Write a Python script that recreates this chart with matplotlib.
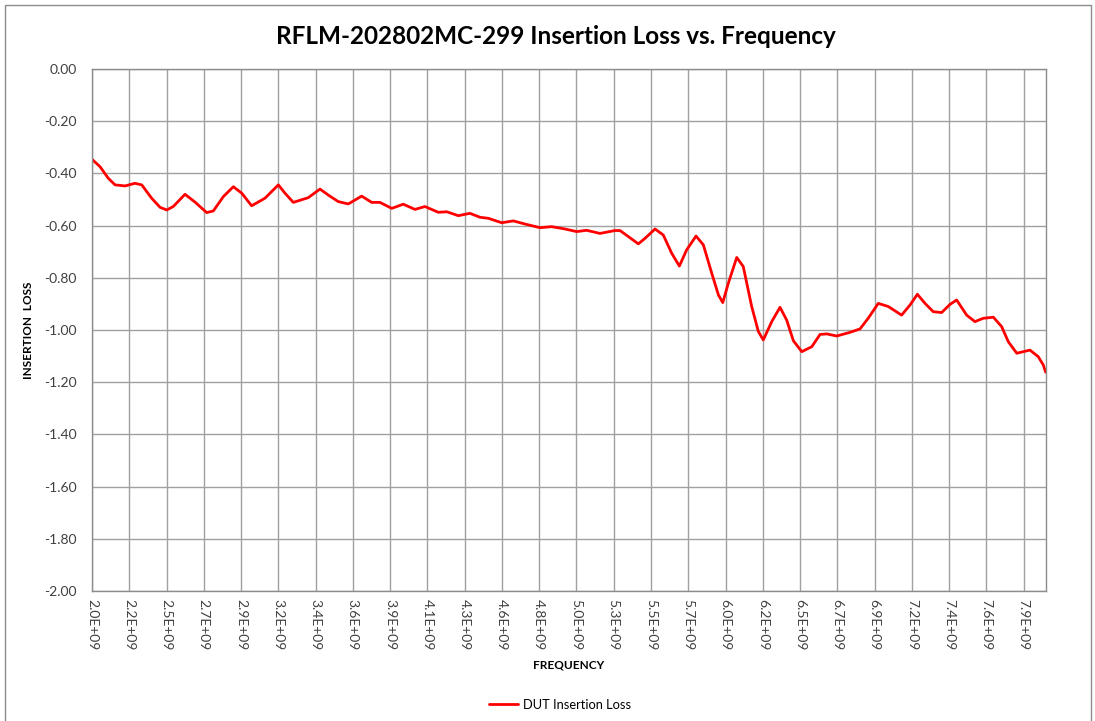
import matplotlib
matplotlib.use("Agg")
import matplotlib.pyplot as plt
from matplotlib.patches import Rectangle

# frequency in GHz, insertion loss in dB
freq_ghz = [
    2.000, 2.050, 2.103, 2.145, 2.208, 2.270, 2.313, 2.375, 2.428, 2.470,
    2.511, 2.585, 2.648, 2.721, 2.763, 2.826, 2.889, 2.942, 3.004, 3.088,
    3.172, 3.214, 3.266, 3.360, 3.434, 3.486, 3.549, 3.612, 3.696, 3.759,
    3.811, 3.885, 3.958, 4.031, 4.094, 4.178, 4.231, 4.304, 4.377, 4.440,
    4.492, 4.577, 4.650, 4.723, 4.818, 4.891, 4.975, 5.048, 5.111, 5.195,
    5.289, 5.321, 5.373, 5.436, 5.478, 5.541, 5.593, 5.646, 5.694, 5.740,
    5.799, 5.845, 5.898, 5.940, 5.967, 6.002, 6.055, 6.096, 6.149, 6.191,
    6.222, 6.275, 6.327, 6.369, 6.411, 6.464, 6.527, 6.579, 6.621, 6.684,
    6.767, 6.830, 6.882, 6.945, 7.008, 7.092, 7.145, 7.191, 7.239, 7.291,
    7.344, 7.396, 7.438, 7.501, 7.553, 7.606, 7.669, 7.721, 7.763, 7.816,
    7.899, 7.951, 7.983, 7.998,
]
loss_db = [
    -0.346, -0.374, -0.419, -0.444, -0.448, -0.438, -0.444, -0.495, -0.530, -0.540,
    -0.527, -0.480, -0.510, -0.550, -0.544, -0.489, -0.451, -0.476, -0.524, -0.495,
    -0.444, -0.476, -0.511, -0.493, -0.460, -0.483, -0.508, -0.517, -0.487, -0.511,
    -0.511, -0.534, -0.518, -0.538, -0.527, -0.549, -0.547, -0.562, -0.553, -0.568,
    -0.572, -0.589, -0.582, -0.594, -0.608, -0.604, -0.613, -0.623, -0.618, -0.630,
    -0.619, -0.619, -0.642, -0.670, -0.649, -0.613, -0.636, -0.706, -0.755, -0.693,
    -0.640, -0.674, -0.783, -0.866, -0.895, -0.821, -0.722, -0.757, -0.910, -1.006,
    -1.038, -0.968, -0.913, -0.962, -1.041, -1.083, -1.064, -1.017, -1.015, -1.023,
    -1.009, -0.996, -0.955, -0.898, -0.910, -0.943, -0.904, -0.863, -0.898, -0.930,
    -0.933, -0.902, -0.885, -0.943, -0.968, -0.955, -0.951, -0.987, -1.045, -1.089,
    -1.077, -1.102, -1.134, -1.162,
]

x_labels = [
    "2.0E+09", "2.2E+09", "2.5E+09", "2.7E+09", "2.9E+09", "3.2E+09", "3.4E+09",
    "3.6E+09", "3.9E+09", "4.1E+09", "4.3E+09", "4.6E+09", "4.8E+09", "5.0E+09",
    "5.3E+09", "5.5E+09", "5.7E+09", "6.0E+09", "6.2E+09", "6.5E+09", "6.7E+09",
    "6.9E+09", "7.2E+09", "7.4E+09", "7.6E+09", "7.9E+09",
]
tick_step_ghz = 0.234375
y_ticks = [0.0, -0.2, -0.4, -0.6, -0.8, -1.0, -1.2, -1.4, -1.6, -1.8, -2.0]

plt.rcParams['font.family'] = ['Lato', 'DejaVu Sans']

fig = plt.figure(figsize=(10.95, 7.21), dpi=100)
fig.patches.append(Rectangle((5 / 1095, -0.01), 1086 / 1095, 1 - 5 / 721 + 0.01,
                             transform=fig.transFigure, fill=False,
                             edgecolor='#8c8c8c', linewidth=1.0))

ax = fig.add_axes([92 / 1095, 1 - 591 / 721, 954 / 1095, 522 / 721])

freq_hz = [f * 1e9 for f in freq_ghz]
ax.plot(freq_hz, loss_db, color='#ff0000', linewidth=2.0,
        solid_joinstyle='round', solid_capstyle='round', label='DUT Insertion Loss')

ax.set_xlim(2e9, 8e9)
ax.set_ylim(-2.0, 0.0)

xt = [2e9 + i * tick_step_ghz * 1e9 for i in range(len(x_labels))]
ax.set_xticks(xt)
ax.set_xticklabels(x_labels, rotation=270, fontsize=10)
ax.set_yticks(y_ticks)
ax.set_yticklabels(["%.2f" % v for v in y_ticks], fontsize=10)
ax.tick_params(axis='both', length=0, colors='#404040')
ax.tick_params(axis='x', pad=6)
ax.tick_params(axis='y', pad=11)

ax.grid(True, color='#a0a0a0', linewidth=1.0)
ax.set_axisbelow(True)
for s in ax.spines.values():
    s.set_color('#8c8c8c')
    s.set_linewidth(1.0)

ax.set_xlabel('FREQUENCY', fontsize=8.5, fontweight='bold', labelpad=6)
ax.set_ylabel('INSERTION  LOSS', fontsize=8.5, fontweight='bold', labelpad=7)

fig.text(556 / 1095, 1 - 36 / 721, 'RFLM-202802MC-299 Insertion Loss vs. Frequency',
         ha='center', va='center', fontsize=17.5, fontweight='bold')

fig.legend(loc='center', bbox_to_anchor=(560 / 1095, 1 - 705 / 721), frameon=False,
           fontsize=9.3, handlelength=2.3, handletextpad=0.4)

fig.savefig('out.png', dpi=100)
